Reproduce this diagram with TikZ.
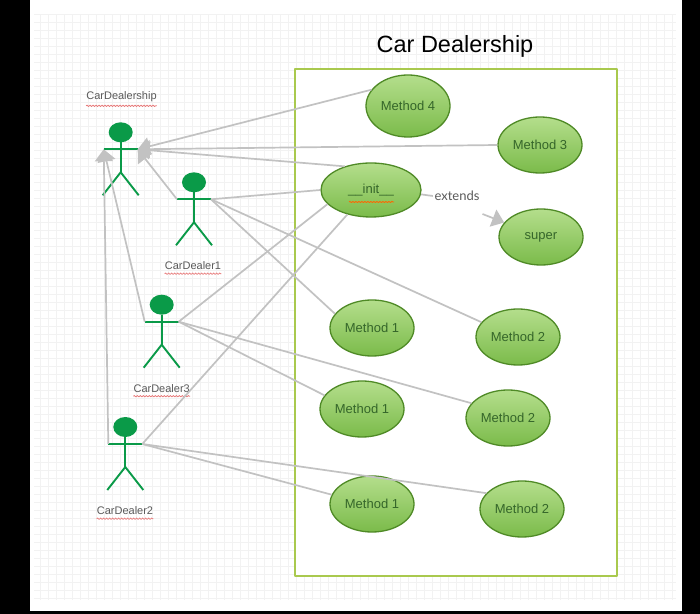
\documentclass[tikz,border=0pt]{standalone}
\usepackage{fontspec}
\setmainfont{Liberation Sans}
\newfontfamily\extfont{Lato}
\usetikzlibrary{shapes.geometric,arrows.meta,decorations.pathmorphing}
\definecolor{actorgreen}{HTML}{0A9A48}
\definecolor{linegray}{HTML}{C2C2C2}
\definecolor{boxgreen}{HTML}{A9C94E}
\definecolor{caseborder}{HTML}{4F8A26}
\definecolor{casetop}{HTML}{B4DE8C}
\definecolor{casebottom}{HTML}{7BBB4A}
\definecolor{casetext}{HTML}{35662A}
\definecolor{labelgray}{HTML}{5A5A5A}
\definecolor{wavered}{HTML}{E87C7C}
\definecolor{gridgray}{HTML}{F2F2F2}
\tikzset{
  usecase/.style={ellipse,draw=caseborder,line width=1.3bp,top color=casetop,
    bottom color=casebottom,text=casetext,minimum width=84bp,minimum height=56bp,
    inner sep=0pt,font=\fontsize{13bp}{15bp}\selectfont},
  actorlabel/.style={text=labelgray,inner sep=0pt,font=\fontsize{11bp}{13bp}\selectfont},
  actorline/.style={draw=actorgreen,line width=1.9bp},
  actorhead/.style={ellipse,fill=actorgreen,minimum width=24bp,minimum height=20bp,inner sep=0pt},
  link/.style={draw=linegray,line width=1.7bp},
  squiggle/.style={draw=wavered,line width=.8bp,decorate,decoration={snake,amplitude=.7bp,segment length=3bp}},
}
\newcommand{\actorfig}[3]{%
  \node (#1_head) at (#2bp,#3bp) [actorhead] {};
  \coordinate (#1_l) at (#2bp-17bp,#3bp-17bp);
  \coordinate (#1_r) at (#2bp+17bp,#3bp-17bp);
  \coordinate (#1_hip) at (#2bp,#3bp-40bp);
  \coordinate (#1_lfoot) at (#2bp-18bp,#3bp-63bp);
  \coordinate (#1_rfoot) at (#2bp+18bp,#3bp-63bp);
  \draw [actorline] (#1_head) -- (#1_hip);
  \draw [actorline] (#1_l) -- (#1_r);
  \draw [actorline] (#1_lfoot) -- (#1_hip) -- (#1_rfoot);
}
\begin{document}
\begin{tikzpicture}[>={Triangle[length=12bp,width=18bp]},line join=bevel,]
\useasboundingbox (0bp,0bp) rectangle (700bp,614bp);
%% page and grid
\fill [black] (0bp,0bp) rectangle (700bp,614bp);
\fill [white] (30bp,3bp) rectangle (682bp,614bp);
\draw [gridgray,line width=.4bp,step=8bp] (34bp,14bp) grid (676bp,600bp);
\node (frame) at (456bp,291.5bp) [draw=boxgreen,line width=2bp,fill=white,minimum width=322bp,minimum height=507bp] {};
\node (title) at (455bp,568bp) [inner sep=0pt,font=\fontsize{23.5bp}{26bp}\selectfont] {Car Dealership};
%% use cases
\node (init) at (371bp,424bp) [usecase,minimum width=100bp,minimum height=54bp] {\_\_init\_\_};
\node (method4) at (408bp,508bp) [usecase,minimum height=62bp] {Method 4};
\node (method3) at (540bp,469bp) [usecase] {Method 3};
\node (super) at (541bp,377bp) [usecase] {super};
\node (method1a) at (372bp,286bp) [usecase] {Method 1};
\node (method2a) at (518bp,277bp) [usecase] {Method 2};
\node (method1b) at (362bp,205bp) [usecase] {Method 1};
\node (method2b) at (508bp,196bp) [usecase] {Method 2};
\node (method1c) at (372bp,110bp) [usecase] {Method 1};
\node (method2c) at (522bp,105bp) [usecase] {Method 2};
\draw [squiggle,draw=orange!80!red] (349bp,412bp) -- (394bp,412bp);
%% actors
\actorfig{ship}{120.7}{481.7}
\actorfig{dealer1}{194}{431.7}
\actorfig{dealer3}{161.7}{309.3}
\actorfig{dealer2}{125.3}{187}
\node (ship_label) at (121.5bp,517bp) [actorlabel] {CarDealership};
\node (dealer1_label) at (193bp,348bp) [actorlabel] {CarDealer1};
\node (dealer3_label) at (161.7bp,225.5bp) [actorlabel] {CarDealer3};
\node (dealer2_label) at (125bp,103bp) [actorlabel] {CarDealer2};
\foreach \lab in {ship_label,dealer1_label,dealer3_label,dealer2_label} {
  \draw [squiggle] ([yshift=-3.5bp]\lab.south west) -- ([yshift=-3.5bp]\lab.south east);
}
%% connectors
\draw [link,->] (method4.156) -- (ship_r);
\draw [link,->] (method3.west) -- (ship_r);
\draw [link,->] (init.138) -- (ship_r);
\draw [link,->] (dealer1_l) -- (ship_r);
\draw [link,->] (dealer3_l) -- (ship_l);
\draw [link,->] (dealer2_l) -- (ship_l);
\draw [link] (dealer1_r) -- (init.west);
\draw [link] (dealer1_r) -- (method1a.159);
\draw [link] (dealer1_r) -- (method2a.158);
\draw [link] (dealer3_r) -- (init.198);
\draw [link] (dealer3_r) -- (method1b.160);
\draw [link] (dealer3_r) -- (method2b.158);
\draw [link] (dealer2_r) -- (init.226);
\draw [link] (dealer2_r) -- (method1c.167);
\draw [link] (dealer2_r) -- (method2c.156);
\node (extends) at (457bp,418bp) [text=labelgray,inner sep=1.5bp,font=\extfont\fontsize{13bp}{15bp}\selectfont] {extends};
\coordinate (extends_out) at (482.5bp,400bp);
\draw [link] (init.-5) -- (extends.west);
\draw [link,->] (extends_out) -- (super);
%
\end{tikzpicture}
\end{document}
